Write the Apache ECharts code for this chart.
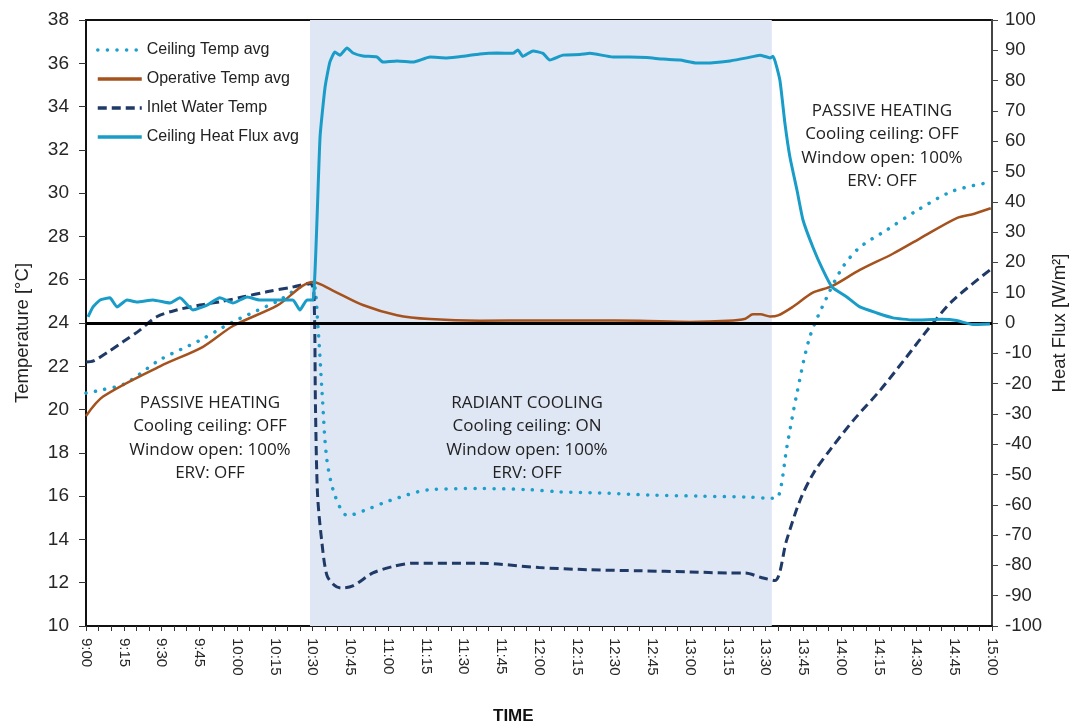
<!DOCTYPE html>
<html><head><meta charset="utf-8">
<script src="https://cdn.jsdelivr.net/npm/echarts@6/dist/echarts.min.js"></script>
<style>html,body{margin:0;padding:0;background:#fff}#c{width:1072px;height:727px}</style>
</head><body><div id="c"></div>
<script>
// minutes after 9:00
const xTickLabels = ['9:00','9:15','9:30','9:45','10:00','10:15','10:30','10:45','11:00','11:15','11:30','11:45','12:00','12:15','12:30','12:45','13:00','13:15','13:30','13:45','14:00','14:15','14:30','14:45','15:00'];

const ceilTempT = [0,6,15.5,29.4,45.3,54.4,61,76,89,90.5,92.2,93.8,95.7,99,104,112,120.8,136.7,156.5,176,188,204,224,244,264,272.5,275,278.5,282.5,287.6,294.4,300.8,307.5,318.2,330.2,344.5,359.2];
const ceilTempV = [20.76,20.9,21.2,22.3,23.2,23.8,24.2,25.0,25.8,25.8,23.8,20.8,17.7,16.0,15.1,15.4,15.8,16.3,16.35,16.3,16.2,16.15,16.05,16.0,15.95,15.9,15.95,18.27,20.76,23.35,25.2,26.6,27.5,28.3,29.2,30.1,30.5];

const opTempT = [0,6.8,29.4,46.5,58.4,75.9,90.2,98.1,110,123.6,136.7,156.5,180,200,220,240,255,262,265,268,271.8,275,280.9,288.8,296.4,307.5,320.6,331.3,346,353,359.5];
const opTempV = [19.7,20.6,22.0,22.9,23.86,24.8,25.9,25.5,24.83,24.36,24.18,24.1,24.12,24.12,24.1,24.05,24.1,24.2,24.4,24.4,24.3,24.35,24.75,25.4,25.7,26.45,27.2,27.9,28.85,29.05,29.3];

const inletT = [0,3,8.9,14.7,21.4,28.1,36,45.3,53.2,62.5,71.8,82.4,89,90.5,91.2,92,93.6,95.7,98.5,101.3,106,114,122,130,156.5,180,200,220,240,255,262,268,273.7,278.4,283.7,289,295.6,304.9,315.6,326.1,335.4,344.6,359.2];
const inletV = [22.2,22.25,22.67,23.13,23.67,24.29,24.6,24.83,24.98,25.21,25.44,25.67,25.83,25.5,20,16.1,14,12.35,11.9,11.75,11.85,12.45,12.75,12.9,12.9,12.7,12.6,12.55,12.5,12.45,12.45,12.25,12.1,13.97,15.8,17.05,18.13,19.5,20.9,22.44,23.83,25.06,26.45];

const fluxT = [0.8,2.8,5.6,9.5,12.3,16.3,20.3,26.6,33.4,37.3,42.5,48.1,53.2,58.4,64.0,69.1,74.3,82.2,85.0,87.8,90.2,93.0,95.0,96.9,98.9,100.9,103.7,106.1,110.1,115.6,118.0,123.6,129.9,136.7,143.4,149.8,156.5,163.3,169.6,171.6,173.6,177.6,181.6,184.3,189.5,196.3,200.2,209.4,216.1,222.9,229.2,236.0,242.7,249.1,255.9,262.6,267.8,271.8,273.0,275.7,277.7,279.7,282.5,284.9,288.8,292.8,296.4,302.3,307.5,314.3,320.6,328.6,340,346.0,352.4,359.2];
const fluxV = [2.0,5.3,7.6,8.3,5.3,7.6,6.9,7.6,6.6,8.3,4.3,5.9,8.3,6.6,8.6,7.6,7.6,7.6,4.3,7.6,7.6,61.4,77.9,86.1,89.4,88.4,90.8,89.1,88.1,87.8,86.1,86.5,86.1,87.8,87.5,88.0,88.8,89.1,89.0,90.1,88.0,89.8,89.0,86.8,88.4,88.6,89.0,87.8,87.8,87.6,87.1,86.8,85.8,85.9,86.5,87.5,88.4,87.5,88.0,80.2,66.0,54.8,43.9,34.0,25.1,17.5,11.9,8.6,5.3,3.3,1.7,1.0,1.2,0.8,-0.5,-0.3];

const coolStart = 89, coolEnd = 272.5;

function pairs(t, v){ return t.map((x,i)=>[x, v[i]]); }

const chart = echarts.init(document.getElementById('c'));
const font = 'Liberation Sans, Arial, sans-serif';
const annFont = 'Open Sans, sans-serif';
function ann(x, y, lines){
  return { type:'text', x:x, y:y, z:10, style:{ text: lines.join('\n'), align:'center', verticalAlign:'top', fill:'#222', font:'17px '+annFont, lineHeight:23.5 } };
}
chart.setOption({
  animation:false,
  grid:{ left:86, right:80, top:20, bottom:101, show:true, borderColor:'#111', borderWidth:2, containLabel:false },
  legend:{
    orient:'vertical', left:96, top:42, padding:0, itemWidth:44, itemHeight:14, itemGap:13,
    itemStyle:{ opacity:0 },
    lineStyle:{ width:3.5 },
    textStyle:{ fontFamily:font, fontSize:16, color:'#222' },
    data:['Ceiling Temp avg','Operative Temp avg','Inlet Water Temp','Ceiling Heat Flux avg']
  },
  xAxis:{
    type:'value', min:0, max:360, interval:15,
    axisLine:{ show:true, onZero:false, lineStyle:{ color:'#111', width:2 } },
    axisTick:{ show:true, length:5, lineStyle:{ color:'#333' } },
    minorTick:{ show:true, splitNumber:3, length:5, lineStyle:{ color:'#333' } },
    splitLine:{ show:false },
    axisLabel:{ rotate:-90, fontFamily:font, fontSize:15, color:'#262626', margin:12,
      formatter:(v)=> xTickLabels[Math.round(v/15)] }
  },
  yAxis:[
    { type:'value', min:10, max:38, interval:2,
      axisLine:{ show:true, onZero:false, lineStyle:{ color:'#111', width:2 } },
      axisTick:{ show:true, length:7, lineStyle:{ color:'#333' } },
      splitLine:{ show:false },
      axisLabel:{ fontFamily:font, fontSize:19, color:'#262626', margin:17 } },
    { type:'value', min:-100, max:100, interval:10,
      axisLine:{ show:true, onZero:false, lineStyle:{ color:'#444', width:2 } },
      axisTick:{ show:true, length:6, lineStyle:{ color:'#444' } },
      splitLine:{ show:false },
      axisLabel:{ fontFamily:font, fontSize:18.5, color:'#262626', margin:13 } }
  ],
  series:[
    { name:'Ceiling Temp avg', type:'line', yAxisIndex:0, symbol:'none', smooth:0.3, z:3,
      data:pairs(ceilTempT, ceilTempV),
      lineStyle:{ color:'#1c9fcb', width:3.5, type:[0.1,9.5], cap:'round' }, itemStyle:{ color:'#1c9fcb' },
      markArea:{ silent:true, itemStyle:{ color:'#dfe6f4' }, data:[[{ xAxis:coolStart },{ xAxis:coolEnd }]] } },
    { name:'Operative Temp avg', type:'line', yAxisIndex:0, symbol:'none', smooth:0.3, z:4,
      data:pairs(opTempT, opTempV),
      lineStyle:{ color:'#a5521d', width:2.5 }, itemStyle:{ color:'#a5521d' } },
    { name:'Inlet Water Temp', type:'line', yAxisIndex:0, symbol:'none', smooth:0.3, z:3,
      data:pairs(inletT, inletV),
      lineStyle:{ color:'#1f3a66', width:3, type:[9,5] }, itemStyle:{ color:'#1f3a66' } },
    { name:'Ceiling Heat Flux avg', type:'line', yAxisIndex:1, symbol:'none', smooth:0.15, z:5,
      data:pairs(fluxT, fluxV),
      lineStyle:{ color:'#1a9cc8', width:3 }, itemStyle:{ color:'#1a9cc8' },
      markLine:{ silent:true, symbol:'none', label:{ show:false }, lineStyle:{ color:'#000', width:3, type:'solid' },
        data:[{ yAxis:0 }] } }
  ],
  graphic:[
    ann(210, 391, ['PASSIVE HEATING','Cooling ceiling: OFF','Window open: 100%','ERV: OFF']),
    ann(527, 391, ['RADIANT COOLING','Cooling ceiling: ON','Window open: 100%','ERV: OFF']),
    ann(882, 99, ['PASSIVE HEATING','Cooling ceiling: OFF','Window open: 100%','ERV: OFF']),
    { type:'text', x:23, y:333, rotation:Math.PI/2, style:{ text:'Temperature [°C]', align:'center', verticalAlign:'middle', fill:'#222', font:'18.5px '+font } },
    { type:'text', x:1060, y:323, rotation:Math.PI/2, style:{ text:'Heat Flux [W/m²]', align:'center', verticalAlign:'middle', fill:'#222', font:'18.5px '+font } },
    { type:'text', x:493, y:708, style:{ text:'TIME', fill:'#111', font:'bold 17px '+font } }
  ]
});
</script></body></html>
